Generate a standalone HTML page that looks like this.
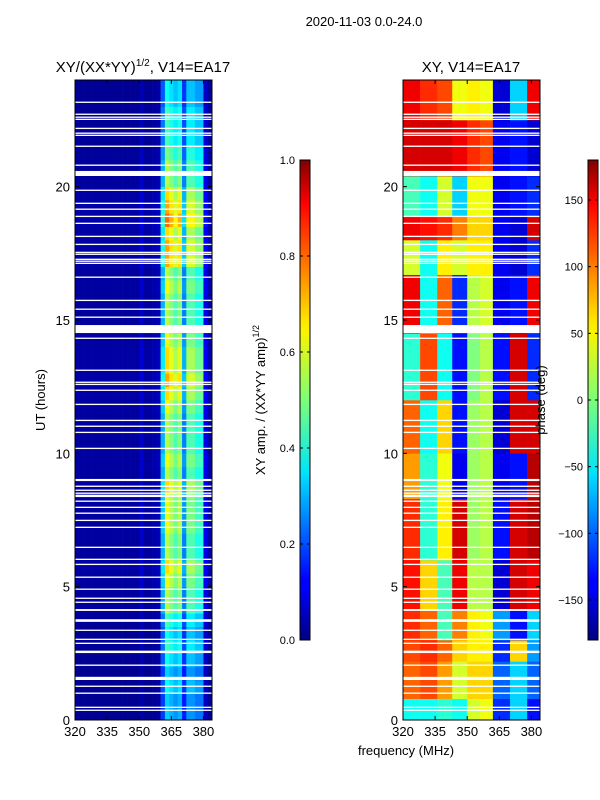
<!DOCTYPE html>
<html><head><meta charset="utf-8"><style>
html,body{margin:0;padding:0;background:#fff;}
svg{display:block;font-family:"Liberation Sans","DejaVu Sans",sans-serif;}
</style></head><body>
<svg id="chart" width="600" height="800" viewBox="0 0 600 800" xmlns="http://www.w3.org/2000/svg">
<defs>
<linearGradient id="jetGrad" x1="0" y1="1" x2="0" y2="0">
<stop offset="0" stop-color="#00007f"/><stop offset="0.11" stop-color="#0000ff"/><stop offset="0.125" stop-color="#0000ff"/>
<stop offset="0.34" stop-color="#00dbff"/><stop offset="0.35" stop-color="#00e5f8"/><stop offset="0.5" stop-color="#7cff79"/>
<stop offset="0.64" stop-color="#f8f500"/><stop offset="0.66" stop-color="#ffea00"/><stop offset="0.89" stop-color="#ff1300"/>
<stop offset="0.91" stop-color="#ff0000"/><stop offset="1" stop-color="#7f0000"/>
</linearGradient>
</defs>
<text x="364" y="26" font-size="13" text-anchor="middle">2020-11-03 0.0-24.0</text>
<text x="143" y="72" font-size="15" text-anchor="middle">XY/(XX*YY)<tspan font-size="10" dy="-6">1/2</tspan><tspan dy="6">, V14=EA17</tspan></text>
<text x="471" y="72" font-size="15" text-anchor="middle">XY, V14=EA17</text>
<text x="406" y="755" font-size="13" text-anchor="middle">frequency (MHz)</text>
<text transform="translate(45,400) rotate(-90)" font-size="13" text-anchor="middle">UT (hours)</text>
<text transform="translate(265,400) rotate(-90)" font-size="13" text-anchor="middle">XY amp. / (XX*YY amp)<tspan font-size="9" dy="-6">1/2</tspan></text>
<g id="leftPanel"></g>
<g id="rightPanel"></g>
<g id="axes"></g>
<text transform="translate(545,400) rotate(-90)" font-size="13" text-anchor="middle">phase (deg)</text>
</svg>
<script>
// ---- data ----
const freqMin = 320, freqMax = 384, hourMin = 0, hourMax = 24;
const xTicks = [320, 335, 350, 365, 380];
const yTicks = [0, 5, 10, 15, 20];
const ampTicks = [0.0, 0.2, 0.4, 0.6, 0.8, 1.0];
const phaseTicks = [-150, -100, -50, 0, 50, 100, 150];
const ampProfile = [0.03,0.03,0.03,0.03,0.03,0.03,0.03,0.03,0.03,0.03,0.03,0.03,0.03,0.03,0.03,0.07,0.03,0.03,0.04,0.05,0.3,0.55,0.5,0.45,0.5,0.25,0.45,0.45,0.4,0.4,0.1,0.04];
const ampRowGain = [0.6,0.6,0.7,0.6,0.7,0.8,0.7,0.8,1.0,1.0,1.1,1.2,1.0,1.0,1.1,1.1,1.1,1.2,1.0,1.1,1.0,1.0,1.0,1.1,1.2,1.3,1.2,1.2,1.1,1.0,1.0,1.0,1.1,1.0,1.3,1.3,1.2,1.4,1.3,1.2,1.0,1.0,0.9,0.8,0.8,0.8,0.7,0.7];
const phaseEdges = [320,328,336,343,350,356,362,370,378,384];
const phaseBandStart = [0,0.8,2.2,3,4.1,6,8.3,10,12,14.5,16.7,18,18.9,20.4,22.5];
const phaseBandEnd   = [0.8,2.2,3,4.1,6,8.3,10,12,14.5,16.7,18,18.9,20.4,22.5,24];
const phaseValues = [
 [-40,-40,-30,-40,30,40,-120,-60,-130],
 [100,110,80,30,60,60,-100,-60,-100],
 [110,120,100,60,50,50,-120,60,-80],
 [120,100,-20,90,50,40,-80,-130,-60],
 [130,60,-20,140,20,20,-150,150,140],
 [120,-30,50,150,10,20,-130,150,160],
 [80,-30,40,-140,10,20,-140,-130,160],
 [100,-40,60,-130,10,20,-150,150,150],
 [-30,110,-40,-130,0,20,-130,150,-120],
 [140,-40,100,-120,20,30,-140,-130,140],
 [30,-40,50,30,50,50,-140,-150,-120],
 [140,130,120,90,60,60,-140,-150,150],
 [-20,-40,30,-60,40,40,-140,-130,-120],
 [150,150,150,140,120,110,-140,-130,-150],
 [140,120,110,40,50,40,-150,-60,140]
];
const gapStart = [0.34,0.45,0.98,1.24,1.5,2.03,2.51,2.85,3.0,3.34,3.68,4.09,4.39,4.54,4.88,5.33,5.81,6.0,6.45,7.2,7.46,7.73,7.95,8.18,8.36,8.48,8.59,8.74,8.96,10.16,10.76,10.99,11.21,11.81,12.34,12.56,12.64,13.09,14.29,14.51,15.08,15.38,15.71,16.58,17.1,17.18,17.25,17.44,17.51,17.81,18.11,18.6,18.86,19.13,19.35,19.84,20.4,20.78,21.49,21.9,21.98,22.16,22.5,22.58,22.69,23.14];
const gapEnd   = [0.39,0.5,1.03,1.29,1.62,2.08,2.6,2.9,3.05,3.39,3.78,4.16,4.44,4.59,4.93,5.38,5.86,6.05,6.5,7.25,7.51,7.78,8.0,8.23,8.45,8.53,8.64,8.79,9.04,10.21,10.81,11.04,11.26,11.86,12.39,12.61,12.69,13.14,14.34,14.81,15.13,15.43,15.76,16.63,17.15,17.23,17.3,17.49,17.56,17.86,18.16,18.65,18.91,19.18,19.4,19.89,20.59,20.83,21.54,21.95,22.03,22.21,22.55,22.63,22.74,23.19];

// ---- geometry ----
const NS = 'http://www.w3.org/2000/svg';
const plotTop = 80, plotBottom = 720;
const leftX0 = 75, leftX1 = 212, rightX0 = 403, rightX1 = 540;
function yScale(h){ return plotBottom - (h - hourMin) / (hourMax - hourMin) * (plotBottom - plotTop); }
function xScaleL(f){ return leftX0 + (f - freqMin) / (freqMax - freqMin) * (leftX1 - leftX0); }
function xScaleR(f){ return rightX0 + (f - freqMin) / (freqMax - freqMin) * (rightX1 - rightX0); }
function cbScale(y0,y1,v,vmin,vmax){ return y1 - (v - vmin)/(vmax - vmin)*(y1 - y0); }
function jet(t){
  t = Math.max(0, Math.min(1, t));
  const r = Math.max(0, Math.min(1, 1.5 - Math.abs(4*t - 3)));
  const g = Math.max(0, Math.min(1, 1.5 - Math.abs(4*t - 2)));
  const b = Math.max(0, Math.min(1, 1.5 - Math.abs(4*t - 1)));
  return 'rgb(' + Math.round(r*255) + ',' + Math.round(g*255) + ',' + Math.round(b*255) + ')';
}
function mk(tag, attrs, parent){
  const el = document.createElementNS(NS, tag);
  for (const k in attrs) el.setAttribute(k, attrs[k]);
  parent.appendChild(el); return el;
}

const LP = document.getElementById('leftPanel');
const binW = (freqMax - freqMin) / ampProfile.length;
const rowH = (hourMax - hourMin) / ampRowGain.length;
for (let r = 0; r < ampRowGain.length; r++) {
  for (let c = 0; c < ampProfile.length; c++) {
    const v = Math.min(1, ampProfile[c] * ampRowGain[r]);
    const x0 = xScaleL(freqMin + c*binW), x1 = xScaleL(freqMin + (c+1)*binW);
    const y0 = yScale(hourMin + (r+1)*rowH), y1 = yScale(hourMin + r*rowH);
    const cell = mk('rect', {x:x0, y:y0, width:x1-x0+0.3, height:y1-y0+0.3, fill:jet(v)}, LP);
    
    
  }
}
const RP = document.getElementById('rightPanel');
for (let b = 0; b < phaseValues.length; b++) {
  for (let s = 0; s < phaseEdges.length - 1; s++) {
    const x0 = xScaleR(phaseEdges[s]), x1 = xScaleR(phaseEdges[s+1]);
    const y0 = yScale(phaseBandEnd[b]), y1 = yScale(phaseBandStart[b]);
    const cell = mk('rect', {x:x0, y:y0, width:x1-x0+0.3, height:y1-y0+0.3, fill:jet((phaseValues[b][s]+180)/360)}, RP);
    
    
  }
}
for (let i = 0; i < gapStart.length; i++) {
  const y0 = yScale(gapEnd[i]), h = Math.max(1.2, yScale(gapStart[i]) - y0);
  const g1 = mk('rect', {x:leftX0, y:y0, width:leftX1-leftX0, height:h, fill:'#fff'}, LP);
  
  
  const g2 = mk('rect', {x:rightX0, y:y0, width:rightX1-rightX0, height:h, fill:'#fff'}, RP);
  
  
}

const AX = document.getElementById('axes');
[[leftX0,leftX1,xScaleL,'left'],[rightX0,rightX1,xScaleR,'right']].forEach(([x0,x1,xs,nm]) => {
  const frame = mk('rect', {x:x0, y:plotTop, width:x1-x0, height:plotBottom-plotTop, fill:'none', stroke:'#000', 'stroke-width':1}, AX);
  
  
  xTicks.forEach(t => {
    const x = xs(t);
    mk('line', {x1:x, y1:plotBottom, x2:x, y2:plotBottom-4, stroke:'#000'}, AX);
    mk('line', {x1:x, y1:plotTop, x2:x, y2:plotTop+4, stroke:'#000'}, AX);
    const lb = mk('text', {x:x, y:plotBottom+16, 'font-size':13, 'text-anchor':'middle'}, AX);
    lb.textContent = t;
    
    
  });
  yTicks.forEach(t => {
    const y = yScale(t);
    mk('line', {x1:x0, y1:y, x2:x0+4, y2:y, stroke:'#000'}, AX);
    mk('line', {x1:x1, y1:y, x2:x1-4, y2:y, stroke:'#000'}, AX);
    const lb = mk('text', {x:x0-5, y:y+5, 'font-size':13, 'text-anchor':'end'}, AX);
    lb.textContent = t;
    
    
  });
});
function colorbar(x, ticks, vmin, vmax, nm){
  const y0 = 160, y1 = 640;
  const bar = mk('rect', {x:x, y:y0, width:10, height:y1-y0, fill:'url(#jetGrad)', stroke:'#000', 'stroke-width':1}, AX);
  
  
  ticks.forEach(t => {
    const y = cbScale(y0, y1, t, vmin, vmax);
    mk('line', {x1:x, y1:y, x2:x+3, y2:y, stroke:'#000'}, AX);
    mk('line', {x1:x+10, y1:y, x2:x+7, y2:y, stroke:'#000'}, AX);
    const lb = mk('text', {x:x-5, y:y+4, 'font-size':11, 'text-anchor':'end'}, AX);
    lb.textContent = (vmax <= 1) ? t.toFixed(1) : String(t).replace('-', '\u2212');
    
    
  });
}
colorbar(300, ampTicks, 0, 1, 'amp-colorbar');
colorbar(588, phaseTicks, -180, 180, 'phase-colorbar');
</script>
</body></html>
